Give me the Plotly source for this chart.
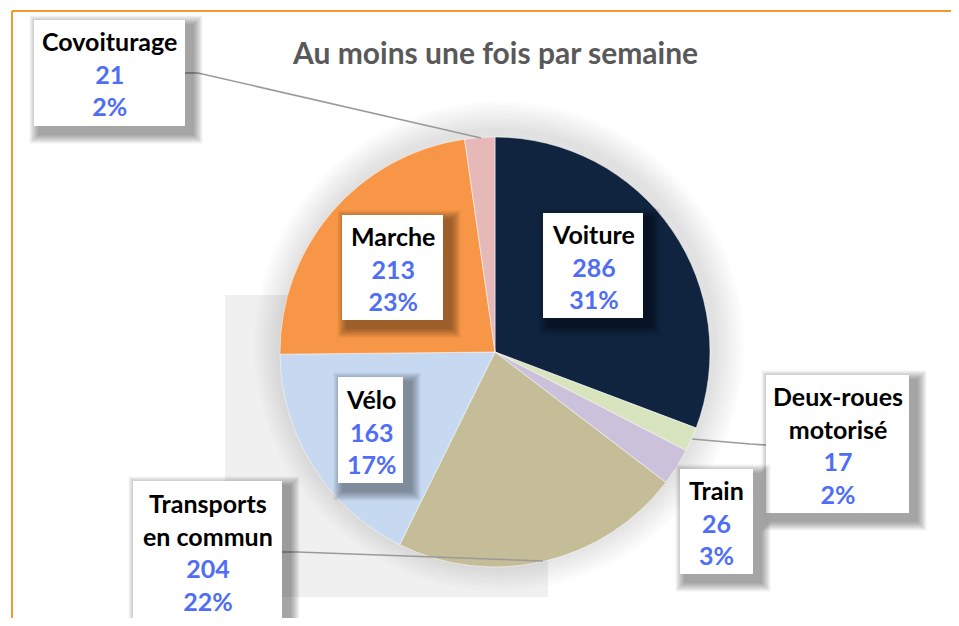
import plotly.graph_objects as go

# ---- data ----
categories = ["Voiture", "Deux-roues motorisé", "Train", "Transports en commun",
              "Vélo", "Marche", "Covoiturage"]
label_lines = ["Voiture", "Deux-roues<br>motorisé", "Train", "Transports<br>en commun",
               "Vélo", "Marche", "Covoiturage"]
values = [286, 17, 26, 204, 163, 213, 21]
percent_labels = ["31%", "2%", "3%", "22%", "17%", "23%", "2%"]
colors = ["#10243F", "#D7E4BD", "#CCC1DA", "#C4BD97", "#C6D9F1", "#F79646", "#E6B9B8"]
title_text = "Au moins une fois par semaine"

# ---- layout helpers (page pixel -> paper); page body has an 8px margin ----
OFF = 8
W, H = 959 - 2 * OFF, 626 - 2 * OFF
def X(px): return (px - OFF) / W
def Y(py): return 1 - (py - OFF) / H

# label boxes: x0, y0, x1, y1 in page pixels
boxes = {
    "Voiture": (543, 213, 643, 318),
    "Deux-roues motorisé": (766, 375, 909, 513),
    "Train": (680, 469, 753, 574),
    "Transports en commun": (133, 481, 282, 620),
    "Vélo": (338, 377, 403, 483),
    "Marche": (342, 215, 443, 320),
    "Covoiturage": (34, 20, 185, 126),
}
leaders = {
    "Covoiturage": [(185, 73), (198, 73), (481, 138)],
    "Deux-roues motorisé": [(766, 445), (750, 444), (692, 439)],
    "Transports en commun": [(282, 552), (297, 552), (543, 561)],
}

shapes = []
# faint background artefact rectangle
shapes.append(dict(type="rect", xref="paper", yref="paper", layer="below",
                   x0=X(225), x1=X(548), y0=Y(597), y1=Y(295),
                   fillcolor="#F0F0F0", line=dict(width=0)))
# soft glow around the pie
cx, cy, r = 495, 352, 215
for e in range(30, 0, -3):
    shapes.append(dict(type="circle", xref="paper", yref="paper", layer="below",
                       x0=X(cx - r - e + 4), x1=X(cx + r + e + 4),
                       y0=Y(cy + r + e - 6), y1=Y(cy - r - e - 6),
                       fillcolor="black", opacity=0.011, line=dict(width=0)))

# orange frame (top and left edges)
shapes.append(dict(type="line", xref="paper", yref="paper", x0=X(12), x1=X(959),
                   y0=Y(11), y1=Y(11), line=dict(color="#F39A2B", width=2)))
shapes.append(dict(type="line", xref="paper", yref="paper", x0=X(12), x1=X(12),
                   y0=Y(11), y1=Y(640), line=dict(color="#F39A2B", width=2)))

# leader lines
for cat, pts in leaders.items():
    path = "M " + " L ".join(f"{X(px)},{Y(py)}" for px, py in pts)
    shapes.append(dict(type="path", xref="paper", yref="paper", path=path,
                       line=dict(color="#9A9A9A", width=1.5)))

annotations = []
for cat, lab, v, p in zip(categories, label_lines, values, percent_labels):
    x0, y0, x1, y1 = boxes[cat]
    # blurred shadow approximation
    for e in range(14, -1, -2):
        shapes.append(dict(type="rect", xref="paper", yref="paper",
                           x0=X(x0 + 4 - e * 0.6), x1=X(x1 + 9 + e * 0.6),
                           y0=Y(y1 + 9 + e * 0.6), y1=Y(y0 + 4 - e * 0.6),
                           fillcolor="black", opacity=0.05, line=dict(width=0)))
    shapes.append(dict(type="rect", xref="paper", yref="paper",
                       x0=X(x0), x1=X(x1), y0=Y(y1), y1=Y(y0),
                       fillcolor="white", line=dict(width=0)))
    text = (f"{lab}<br><span style='color:#4F6DF5'>{v}</span>"
            f"<br><span style='color:#4F6DF5'>{p}</span>")
    annotations.append(dict(xref="paper", yref="paper", x=X((x0 + x1) / 2),
                            y=Y((y0 + y1) / 2 + 1), xanchor="center", yanchor="middle",
                            text=text, showarrow=False, align="center",
                            font=dict(family="Lato", size=25, color="black",
                                      weight="bold")))

annotations.append(dict(xref="paper", yref="paper", x=X(495), y=Y(52),
                        xanchor="center", yanchor="middle", text=title_text,
                        showarrow=False,
                        font=dict(family="Lato", size=30, color="#595959",
                                  weight="bold")))

fig = go.Figure(go.Pie(
    labels=categories, values=values, sort=False, direction="clockwise",
    rotation=0, marker=dict(colors=colors, line=dict(color="white", width=0.5)),
    textinfo="none", hoverinfo="label+value+percent",
    domain=dict(x=[X(cx - r), X(cx + r)], y=[Y(cy + r), Y(cy - r)]),
    showlegend=False,
))

fig.update_layout(width=W, height=H, margin=dict(l=0, r=0, t=0, b=0),
                  paper_bgcolor="white", plot_bgcolor="white",
                  shapes=shapes, annotations=annotations)

fig.write_html("out.html")
